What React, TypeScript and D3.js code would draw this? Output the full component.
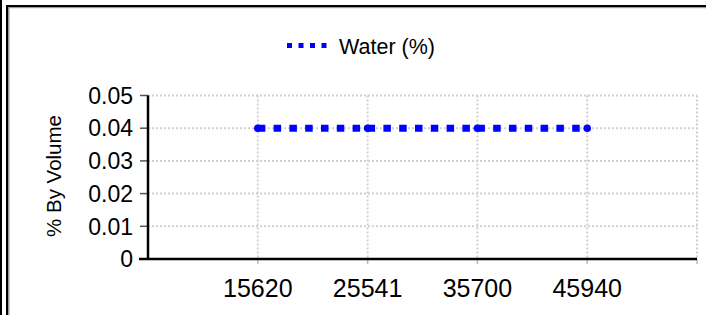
import React, { useEffect, useRef } from 'react';
import * as d3 from 'd3';

const categories = ['15620', '25541', '35700', '45940'];
const waterValues = [0.04, 0.04, 0.04, 0.04];
const yTicks = [0, 0.01, 0.02, 0.03, 0.04, 0.05];

const App: React.FC = () => {
  const ref = useRef<SVGSVGElement>(null);

  useEffect(() => {
    document.body.style.margin = '0';
    if (!ref.current) return;
    const svg = d3.select(ref.current);
    svg.selectAll('*').remove();

    const width = 706;
    const height = 315;
    const left = 148;
    const right = 697;
    const top = 95.5;
    const bottom = 259;
    const font = 'Arial, "Liberation Sans", sans-serif';

    // frame
    svg.append('rect').attr('x', 0).attr('y', 0).attr('width', 2).attr('height', height).attr('fill', '#000');
    svg.append('rect').attr('x', 6).attr('y', 5).attr('width', 2).attr('height', height).attr('fill', '#000');
    svg.append('rect').attr('x', 6).attr('y', 5).attr('width', width).attr('height', 2).attr('fill', '#000');
    svg.append('rect').attr('x', 8).attr('y', 7).attr('width', 1.5).attr('height', height).attr('fill', '#999');
    svg.append('rect').attr('x', 8).attr('y', 7).attr('width', width).attr('height', 1.2).attr('fill', '#999');

    const x = d3.scalePoint<string>().domain(categories).range([left, right]).padding(1);
    const y = d3.scaleLinear().domain([0, 0.05]).range([bottom, top]);

    const grid = svg.append('g').attr('stroke', '#d0d0d0').attr('stroke-width', 2).attr('stroke-dasharray', '2,2');
    yTicks.filter(t => t > 0).forEach(t => {
      grid.append('line').attr('x1', left).attr('x2', right).attr('y1', y(t)).attr('y2', y(t));
    });
    [...categories.map(c => x(c) as number), right].forEach(px => {
      grid.append('line').attr('x1', px).attr('x2', px).attr('y1', top).attr('y2', bottom);
    });

    // tick marks
    const ticks = svg.append('g').attr('stroke', '#555').attr('stroke-width', 1.5);
    yTicks.forEach(t => {
      ticks.append('line').attr('x1', left - 8).attr('x2', left).attr('y1', y(t)).attr('y2', y(t));
    });
    [...categories.map(c => x(c) as number), right].forEach(px => {
      ticks.append('line').attr('x1', px).attr('x2', px).attr('y1', bottom).attr('y2', bottom + 5).attr('stroke', '#bbb');
    });

    // axes
    svg.append('line').attr('x1', left).attr('x2', left).attr('y1', top).attr('y2', bottom + 1)
      .attr('stroke', '#000').attr('stroke-width', 2.5);
    svg.append('line').attr('x1', left - 9).attr('x2', right).attr('y1', bottom).attr('y2', bottom)
      .attr('stroke', '#000').attr('stroke-width', 2.5);

    // y labels
    svg.append('g').selectAll('text').data(yTicks).enter().append('text')
      .attr('x', 133).attr('y', d => y(d)).attr('dy', '0.36em')
      .attr('text-anchor', 'end').attr('font-family', font).attr('font-size', 23).attr('fill', '#000')
      .text(d => (d === 0 ? '0' : d3.format('.2f')(d)));

    // x labels
    svg.append('g').selectAll('text').data(categories).enter().append('text')
      .attr('x', d => x(d) as number).attr('y', 297)
      .attr('text-anchor', 'middle').attr('font-family', font).attr('font-size', 25).attr('fill', '#000')
      .text(d => d);

    // y title
    svg.append('text')
      .attr('transform', `translate(61, 176) rotate(-90)`)
      .attr('text-anchor', 'middle').attr('font-family', font).attr('font-size', 20.5).attr('fill', '#000')
      .text('% By Volume');

    // series
    const pts = categories.map((c, i) => [x(c) as number, y(waterValues[i])] as [number, number]);
    const series = svg.append('g');
    for (let i = 0; i < pts.length - 1; i++) {
      series.append('line')
        .attr('x1', pts[i][0]).attr('y1', pts[i][1]).attr('x2', pts[i + 1][0]).attr('y2', pts[i + 1][1])
        .attr('stroke', '#0000ff').attr('stroke-width', 7).attr('stroke-dasharray', '7.5,8.3');
    }
    series.selectAll('circle').data(pts).enter().append('circle')
      .attr('cx', d => d[0]).attr('cy', d => d[1]).attr('r', 3.8).attr('fill', '#0000ff');

    // legend
    svg.append('line').attr('x1', 287).attr('x2', 328).attr('y1', 45.5).attr('y2', 45.5)
      .attr('stroke', '#0000ff').attr('stroke-width', 5).attr('stroke-dasharray', '5,6.5');
    svg.append('text').attr('x', 339).attr('y', 53.5)
      .attr('font-family', font).attr('font-size', 21.5).attr('fill', '#000')
      .text('Water (%)');
  }, []);

  return <svg ref={ref} width={706} height={315} style={{ position: 'absolute', left: 0, top: 0, background: '#fff' }} />;
};

export default App;
